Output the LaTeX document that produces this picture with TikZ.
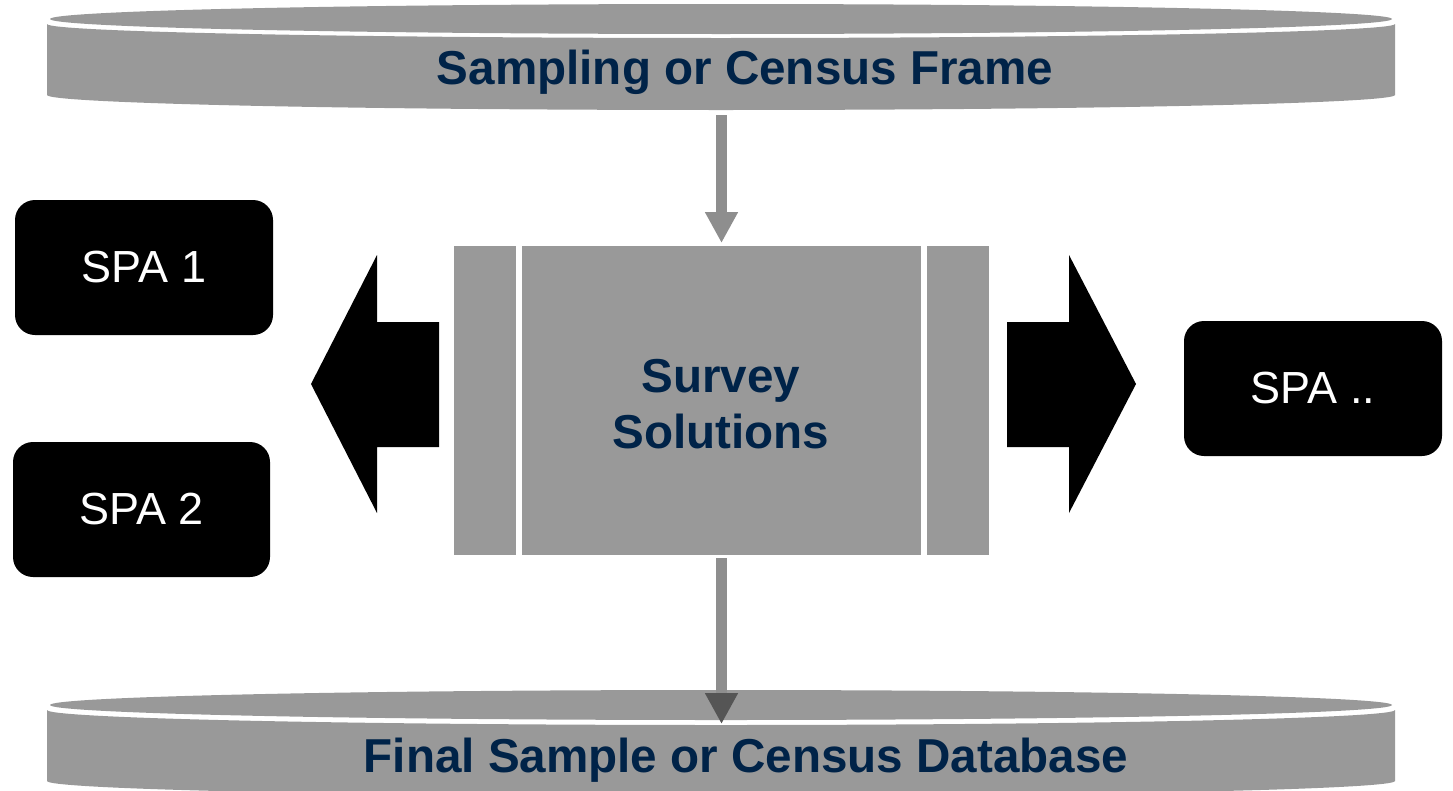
\documentclass[tikz,border=0pt]{standalone}
\usepackage{fontspec}
\setmainfont{Liberation Sans}
\usetikzlibrary{arrows.meta}
\definecolor{cangray}{RGB}{153,153,153}
\definecolor{arrowgray}{RGB}{142,142,142}
\definecolor{headgray}{RGB}{85,85,85}
\definecolor{navy}{RGB}{0,35,72}
\tikzset{
  canpart/.style={fill=cangray, draw=none},
  boxpart/.style={fill=cangray, draw=none},
  spabox/.style={fill=black, draw=none, rounded corners=20pt, minimum width=258pt, minimum height=135pt, text=white, inner sep=0pt, font=\fontsize{45}{54}\selectfont},
  bigtitle/.style={text=navy, inner sep=0pt, font=\bfseries\fontsize{47.6}{56}\selectfont},
  blockarrow/.style={fill=black, draw=none},
  flow/.style={draw=arrowgray, line width=11pt},
}
\begin{document}
\begin{tikzpicture}[x=1pt,y=-1pt]
\useasboundingbox (0,0) rectangle (1453,790);
% top cylinder
\path[canpart] (47,24) -- (47,95) arc[start angle=180, end angle=0, x radius=674, y radius=15] -- (1395,24) arc[start angle=0, end angle=180, x radius=674, y radius=14] -- cycle;
\path[canpart] (721,19) ellipse[x radius=671, y radius=15];
\node[bigtitle, anchor=base] (frame) at (745,84) {Sampling or Census Frame};
% bottom cylinder
\path[canpart] (47,710) -- (47,781) arc[start angle=180, end angle=0, x radius=674, y radius=15] -- (1395,710) arc[start angle=0, end angle=180, x radius=674, y radius=15] -- cycle;
\path[canpart] (721,705) ellipse[x radius=671, y radius=15];
\node[bigtitle, anchor=base] (db) at (746,772) {Final Sample or Census Database};
% central box
\path[boxpart] (454,246) rectangle (516,555);
\path[boxpart] (522,246) rectangle (921,555);
\path[boxpart] (927,246) rectangle (989,555);
\node[bigtitle, align=center] (ss) at (721,404) {Survey\\Solutions};
% SPA boxes
\node[spabox] (spa1) at (144,267.5) {SPA 1};
\node[spabox, minimum width=257pt] (spa2) at (141.5,509.5) {SPA 2};
\node[spabox] (span) at (1313,388.5) {SPA ..};
% block arrows
\path[blockarrow] (439,322) -- (377,322) -- (377,255) -- (311,384) -- (377,513) -- (377,447) -- (439,447) -- cycle;
\path[blockarrow] (1007,322) -- (1069,322) -- (1069,255) -- (1136,384) -- (1069,513) -- (1069,447) -- (1007,447) -- cycle;
% vertical arrows
\coordinate (topstart) at (721.5,115);
\coordinate (boxtop) at (721.5,243);
\coordinate (boxbottom) at (721.5,558);
\coordinate (dbtop) at (721.5,724);
\draw[flow, -{Triangle[width=31pt,length=31pt,color=arrowgray]}] (topstart) -- (boxtop);
\draw[flow, -{Triangle[width=31pt,length=31pt,color=headgray]}] (boxbottom) -- (dbtop);
\end{tikzpicture}
\end{document}
